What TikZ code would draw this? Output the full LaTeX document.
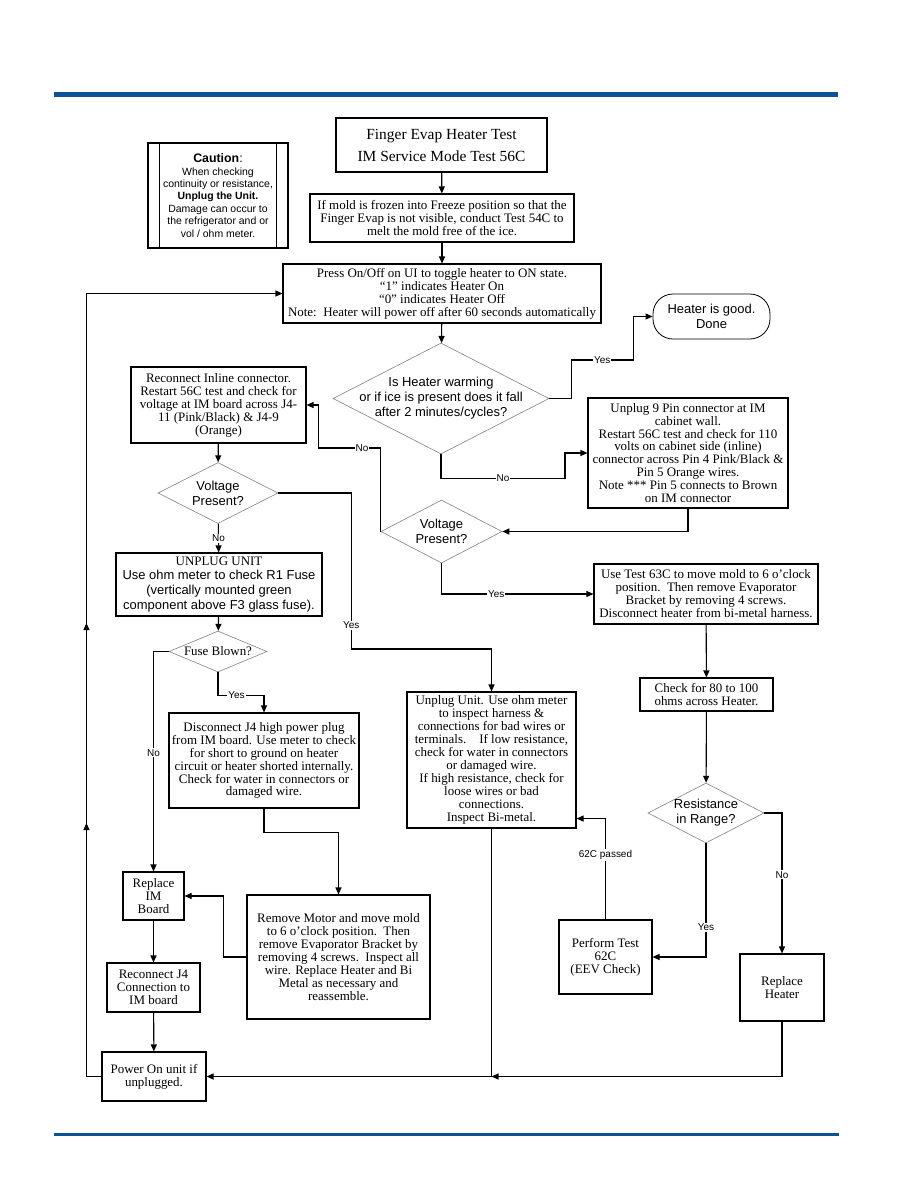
\documentclass[tikz,border=0pt]{standalone}
\usepackage{fontspec}
\setmainfont{Liberation Serif}
\setsansfont{Liberation Sans}
\usetikzlibrary{arrows.meta,shapes.geometric,decorations.markings}
\definecolor{bar}{HTML}{0B5394}
\definecolor{rim}{HTML}{808080}

\begin{document}
\begin{tikzpicture}[x=1bp,y=-1bp,
 box/.style={draw,line width=1.1bp,align=center,inner sep=0pt,
             font=\fontsize{13}{13}\selectfont},
 dia/.style={diamond,draw=rim,line width=0.6bp,inner sep=0pt},
 dtext/.style={align=center,font=\sffamily\fontsize{13}{15}\selectfont},
 lab/.style={fill=white,inner sep=1bp,font=\sffamily\fontsize{10}{10}\selectfont},
 arrow/.style={-{Triangle[length=7bp,width=6bp]},line width=1.1bp}]
\useasboundingbox (0,0) rectangle (918,1188);
\fill[bar] (54,92) rectangle (838,97);
\fill[bar] (54,1133) rectangle (839,1136);

\node[draw,line width=1.1bp,minimum width=140bp,minimum height=105bp,align=center,
      font=\sffamily\fontsize{10.5}{12.5}\selectfont] (caution) at (218,195.5)
  {{\fontsize{12.4}{14}\selectfont\textbf{Caution}:}\\When checking\\continuity or resistance,\\\textbf{Unplug the Unit.}\\Damage can occur to\\the refrigerator and or\\vol / ohm meter.};
\draw[line width=1.1bp] ([xshift=12bp]caution.north west) -- ([xshift=12bp]caution.south west);
\draw[line width=1.1bp] ([xshift=-12bp]caution.north east) -- ([xshift=-12bp]caution.south east);

\node[box,minimum width=211bp,minimum height=54bp,font=\fontsize{15.5}{22}\selectfont] (title) at (441.5,145) {Finger Evap Heater Test\\IM Service Mode Test 56C};
\node[box,minimum width=264bp,minimum height=48bp] (mold) at (442,218) {If mold is frozen into Freeze position so that the\\Finger Evap is not visible, conduct Test 54C to\\melt the mold free of the ice.};
\node[box,minimum width=318bp,minimum height=59bp] (press) at (442,293.5) {Press On/Off on UI to toggle heater to ON state.\\“1” indicates Heater On\\“0” indicates Heater Off\\Note:\ \ Heater will power off after 60 seconds automatically};
\node[draw,line width=0.8bp,rounded corners=20bp,minimum width=117bp,minimum height=45bp,align=center,
      font=\sffamily\fontsize{13}{15}\selectfont] (good) at (711.5,316.5) {Heater is good.\\Done};
\node[dia,minimum width=216bp,minimum height=111bp,
      label={[dtext]center:Is Heater warming\\or if ice is present does it fall\\after 2 minutes/cycles?}] (d1) at (441,398.5) {};
\node[box,minimum width=175bp,minimum height=76bp] (reconnect) at (218.5,405) {Reconnect Inline connector.\\Restart 56C test and check for\\voltage at IM board across J4-\\11 (Pink/Black) \& J4-9\\(Orange)};
\node[box,minimum width=200bp,minimum height=110bp] (unplug9) at (688,453) {Unplug 9 Pin connector at IM\\cabinet wall.\\Restart 56C test and check for 110\\volts on cabinet side (inline)\\connector across Pin 4 Pink/Black \&\\Pin 5 Orange wires.\\Note *** Pin 5 connects to Brown\\on IM connector};
\node[dia,minimum width=120bp,minimum height=61bp,label={[dtext]center:Voltage\\Present?}] (vp1) at (218,493) {};
\node[dia,minimum width=121bp,minimum height=63bp,label={[dtext]center:Voltage\\Present?}] (vp2) at (441.5,531.5) {};
\node[box,minimum width=206bp,minimum height=63bp,font=\fontsize{13}{15}\selectfont] (unplugunit) at (219,584.5) {UNPLUG UNIT\\\textsf{Use ohm meter to check R1 Fuse}\\\textsf{(vertically mounted green}\\\textsf{component above F3 glass fuse).}};
\node[box,minimum width=224bp,minimum height=60bp] (use63) at (706,594) {Use Test 63C to move mold to 6 o’clock\\position.\ \ Then remove Evaporator\\Bracket by removing 4 screws.\\Disconnect heater from bi-metal harness.};
\node[dia,minimum width=98bp,minimum height=41bp,label={[align=center,font=\fontsize{13}{13}\selectfont]center:Fuse Blown?}] (fuse) at (218,651.5) {};
\node[box,minimum width=133bp,minimum height=33bp] (check80) at (706.5,694.5) {Check for 80 to 100\\ohms across Heater.};
\node[box,minimum width=190bp,minimum height=95bp] (disconnect) at (264,760.5) {Disconnect J4 high power plug\\from IM board. Use meter to check\\for short to ground on heater\\circuit or heater shorted internally.\\Check for water in connectors or\\damaged wire.};
\node[box,minimum width=169bp,minimum height=136bp] (inspect) at (491.5,760) {Unplug Unit. Use ohm meter\\to inspect harness \&\\connections for bad wires or\\terminals.\ \ \ \ If low resistance,\\check for water in connectors\\or damaged wire.\\If high resistance, check for\\loose wires or bad\\connections.\\Inspect Bi-metal.};
\node[dia,minimum width=116bp,minimum height=60bp,label={[dtext]center:Resistance\\in Range?}] (d3) at (706,813) {};
\node[box,minimum width=61bp,minimum height=48bp] (replaceim) at (153.5,896) {Replace\\IM\\Board};
\node[box,minimum width=183bp,minimum height=124bp] (motor) at (338.5,957) {Remove Motor and move mold\\to 6 o’clock position.\ \ Then\\remove Evaporator Bracket by\\removing 4 screws.\ \ Inspect all\\wire. Replace Heater and Bi\\Metal as necessary and\\reassemble.};
\node[box,minimum width=93bp,minimum height=74bp] (perform) at (605.5,957) {Perform Test\\62C\\(EEV Check)};
\node[box,minimum width=84bp,minimum height=67bp] (heater) at (782,987.5) {Replace\\Heater};
\node[box,minimum width=93bp,minimum height=49bp] (reconnectj4) at (153.5,987.5) {Reconnect J4\\Connection to\\IM board};
\node[box,minimum width=104bp,minimum height=49bp] (power) at (154,1076.5) {Power On unit if\\unplugged.};

\draw[arrow] (title) -- (mold);
\draw[arrow] (mold) -- (press);
\draw[arrow] (press) -- (d1);
\draw[arrow] (d1.east) -| ++(22,-38.5) -- node[lab]{Yes} ++(62,0) |- (good.west);
\draw[arrow] (d1.south) -- ++(0,24) -- node[lab]{No} ++(124,0) |- (unplug9.west);
\draw[arrow] (unplug9.south) |- (vp2.east);
\draw[arrow] (vp2.west) -- ++(0,-83.5) -- node[lab,pos=0.3]{No} ++(-62,0) |- (reconnect.east);
\draw[arrow] (vp2.south) |- node[lab,pos=0.68]{Yes} (use63.west);
\draw[arrow] (use63) -- (check80);
\draw[arrow] (check80) -- (d3);
\draw[arrow] (d3.east) -| node[lab,pos=0.72]{No} (heater.north);
\draw[arrow] (d3.south) |- node[lab,pos=0.37]{Yes} (perform.east);
\draw[arrow] (perform.north) |- node[lab,pos=0.32]{62C passed} ([yshift=10bp]inspect.south east);
\draw[arrow] (reconnect) -- (vp1);
\draw[arrow] (vp1.east) -- ++(73,0) -- node[lab,pos=0.85]{Yes} ++(0,156) -| (inspect.north);
\draw[arrow] (vp1) -- node[lab]{No} (unplugunit);
\draw[arrow] (unplugunit) -- (fuse);
\draw[arrow] (fuse.west) -| node[lab,pos=0.73]{No} (replaceim.north);
\draw[arrow] (fuse.south) -- ++(0,23) -| node[lab,pos=0.2]{Yes} (disconnect.north);
\draw[arrow] (disconnect.south) -- ++(0,24) -| (motor.north);
\draw[arrow] (motor.west) -- ++(-23,0) |- (replaceim.east);
\draw[arrow] (replaceim) -- (reconnectj4);
\draw[arrow] (reconnectj4) -- (power);
\draw[arrow] (inspect.south) |- (power.east);
\draw[arrow] (heater.south) |- (inspect.south |- power.east);
% loop back to the start, with two arrows on the way up
\draw[arrow,postaction={decorate},decoration={markings,
   mark=at position 268.5bp with {\arrow{Triangle[length=7bp,width=6bp]}},
   mark=at position 468.5bp with {\arrow{Triangle[length=7bp,width=6bp]}}}]
  (power.west) -- ++(-15,0) |- (press.west);
\end{tikzpicture}
\end{document}
